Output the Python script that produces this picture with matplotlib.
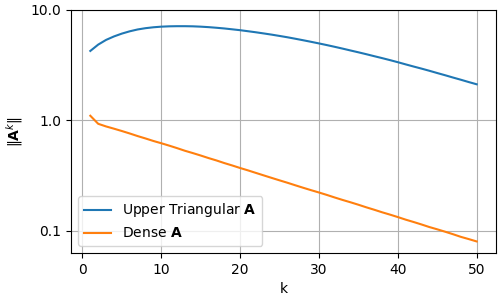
import numpy as np
import matplotlib
matplotlib.use("Agg")
import matplotlib.pyplot as plt
from matplotlib.ticker import FormatStrFormatter, NullLocator

# =============================================================================
# Data
# =============================================================================
k = list(range(1, 51))

upper_tri = [4.25, 4.85, 5.35, 5.75, 6.10, 6.40, 6.65, 6.83, 6.96, 7.05,
             7.10, 7.12, 7.12, 7.10, 7.05, 6.98, 6.89, 6.79, 6.67, 6.55,
             6.41, 6.27, 6.12, 5.97, 5.81, 5.65, 5.48, 5.31, 5.14, 4.97,
             4.80, 4.63, 4.46, 4.29, 4.13, 3.97, 3.81, 3.66, 3.51, 3.36,
             3.21, 3.07, 2.94, 2.81, 2.68, 2.56, 2.44, 2.33, 2.22, 2.12]

dense = [1.10, 0.93, 0.88, 0.84, 0.80, 0.76, 0.72, 0.685, 0.65, 0.62,
         0.59, 0.56, 0.53, 0.505, 0.48, 0.455, 0.433, 0.41, 0.39, 0.37,
         0.352, 0.334, 0.317, 0.301, 0.286, 0.272, 0.258, 0.245, 0.233, 0.222,
         0.211, 0.200, 0.190, 0.181, 0.172, 0.163, 0.155, 0.147, 0.140, 0.133,
         0.126, 0.120, 0.114, 0.108, 0.103, 0.098, 0.093, 0.088, 0.084, 0.080]

labels = [r"Upper Triangular $\mathbf{A}$", r"Dense $\mathbf{A}$"]

# =============================================================================
# Plot
# =============================================================================
fig, ax = plt.subplots(figsize=(5, 3), dpi=100)
ax.plot(k, upper_tri, label=labels[0])
ax.plot(k, dense, label=labels[1])
ax.set_yscale("log")
ax.yaxis.set_major_formatter(FormatStrFormatter("%.1f"))
ax.yaxis.set_minor_locator(NullLocator())
ax.set_ylim(0.063, 10.0)
ax.set_xlabel("k")
ax.set_ylabel(r"$\|\mathbf{A}^k\|$")
ax.grid(True)
ax.legend(loc="lower left")
fig.subplots_adjust(left=0.142, right=0.992, top=0.967, bottom=0.157)
fig.savefig("out.png")
